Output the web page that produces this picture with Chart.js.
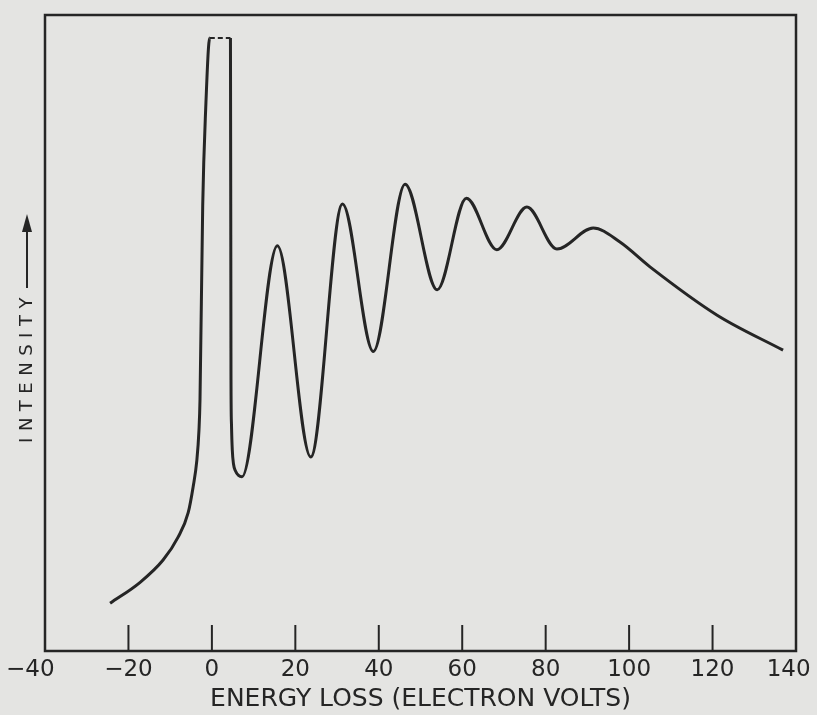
<!DOCTYPE html>
<html>
<head>
<meta charset="utf-8">
<script src="https://cdn.jsdelivr.net/npm/chart.js@4.4.1/dist/chart.umd.min.js"></script>
<style>
  html, body { margin: 0; padding: 0; background: #e4e4e2; }
  #wrap { width: 817px; height: 715px; }
</style>
</head>
<body>
<div id="wrap"><canvas id="lossChart" width="817" height="715"></canvas></div>
<script>
// energy loss (eV) and intensity (arbitrary units, 0 = bottom of frame, 100 = top)
const energy = [-24.4, -17.2, -11.7, -8.1, -5.7, -4.5, -3.6, -3.1, -2.85, -2.2, -1.5, -0.5,
    4.45, 4.58, 4.70, 4.89, 5.18, 5.66, 6.38, 7.21,
    15.7, 23.7, 31.3, 38.7, 46.3, 54.0, 61.0, 68.3, 75.5, 82.7, 91.4,
    97.8, 105.0, 121.1, 136.9];
const intensity = [7.5, 10.8, 14.3, 17.9, 21.7, 25.8, 30.0, 34.7, 39.5, 70.0, 85.0, 96.4,
    96.4, 42.6, 35.5, 31.6, 29.4, 28.3, 27.6, 27.4,
    63.7, 30.5, 70.3, 47.1, 73.4, 56.8, 71.2, 63.1, 69.8, 63.2, 66.5,
    64.3, 60.4, 52.8, 47.3];
// the main peak runs off the top: its cut top is drawn dashed
const cutSegment = 11;

const xTicks = [-40, -20, 0, 20, 40, 60, 80, 100, 120, 140];
const innerTicks = [-20, 0, 20, 40, 60, 80, 100, 120];
const xLabel = "ENERGY LOSS (ELECTRON VOLTS)";
const yLabel = "INTENSITY";

const ink = "#252525";

let points = energy.map((e, i) => ({ x: e, y: intensity[i] }));

// end labels sit a little inside the frame corners
function tickText(v) {
    let s = v < 0 ? "\u2212" + Math.abs(v) : String(v);
    if (v === -40) s += "\u2007\u2007";
    if (v === 140) s += "\u2007";
    return s;
}

// frame, inward ticks, background and the rotated y label with its arrow
const framePlugin = {
    id: "frame",
    beforeDraw(chart) {
        let ctx = chart.ctx;
        ctx.save();
        ctx.fillStyle = "#e4e4e2";
        ctx.fillRect(0, 0, chart.width, chart.height);
        ctx.restore();
    },
    afterDraw(chart) {
        let ctx = chart.ctx;
        let a = chart.chartArea;
        let x = chart.scales.x;
        ctx.save();
        ctx.strokeStyle = ink;
        ctx.lineWidth = 2.5;
        ctx.strokeRect(a.left, a.top, a.right - a.left, a.bottom - a.top);

        ctx.lineWidth = 2;
        innerTicks.forEach(v => {
            let px = x.getPixelForValue(v);
            ctx.beginPath();
            ctx.moveTo(px, a.bottom);
            ctx.lineTo(px, a.bottom - 26);
            ctx.stroke();
        });

        // y label, reading upwards, then an arrow
        ctx.translate(27, 370);
        ctx.rotate(-Math.PI / 2);
        ctx.fillStyle = ink;
        ctx.font = '18px "DejaVu Sans"';
        ctx.letterSpacing = "6.5px";
        ctx.textAlign = "center";
        ctx.textBaseline = "middle";
        ctx.fillText(yLabel, 3, 0);
        ctx.letterSpacing = "0px";

        ctx.lineWidth = 2;
        ctx.beginPath();
        ctx.moveTo(82, 0);
        ctx.lineTo(142, 0);
        ctx.stroke();
        ctx.beginPath();
        ctx.moveTo(156, 0);
        ctx.lineTo(138, -5);
        ctx.lineTo(138, 5);
        ctx.closePath();
        ctx.fill();
        ctx.restore();
    }
};

new Chart(document.getElementById("lossChart"), {
    type: "line",
    data: {
        datasets: [{
            data: points,
            borderColor: ink,
            borderWidth: 3,
            pointRadius: 0,
            fill: false,
            cubicInterpolationMode: "monotone",
            segment: {
                borderDash: ctx => ctx.p0DataIndex === cutSegment ? [5, 3] : undefined,
                borderWidth: ctx => ctx.p0DataIndex === cutSegment ? 2 : undefined
            }
        }]
    },
    options: {
        responsive: false,
        animation: false,
        layout: { padding: { left: 45, right: 21, top: 15, bottom: 0 } },
        plugins: {
            legend: { display: false },
            tooltip: { enabled: false }
        },
        scales: {
            x: {
                type: "linear",
                min: -40,
                max: 140,
                afterBuildTicks: s => { s.ticks = xTicks.map(v => ({ value: v })); },
                afterFit: s => { s.height = 64; s.paddingLeft = 0; s.paddingRight = 0; },
                grid: { display: false, drawTicks: false },
                border: { display: false },
                ticks: {
                    autoSkip: false,
                    maxRotation: 0,
                    padding: 5,
                    color: ink,
                    font: { family: "DejaVu Sans", size: 23 },
                    callback: tickText
                },
                title: {
                    display: true,
                    text: xLabel,
                    color: ink,
                    font: { family: "DejaVu Sans", size: 25 },
                    padding: { top: 0, bottom: 1 }
                }
            },
            y: {
                display: false,
                min: 0,
                max: 100
            }
        }
    },
    plugins: [framePlugin]
});
</script>
</body>
</html>
